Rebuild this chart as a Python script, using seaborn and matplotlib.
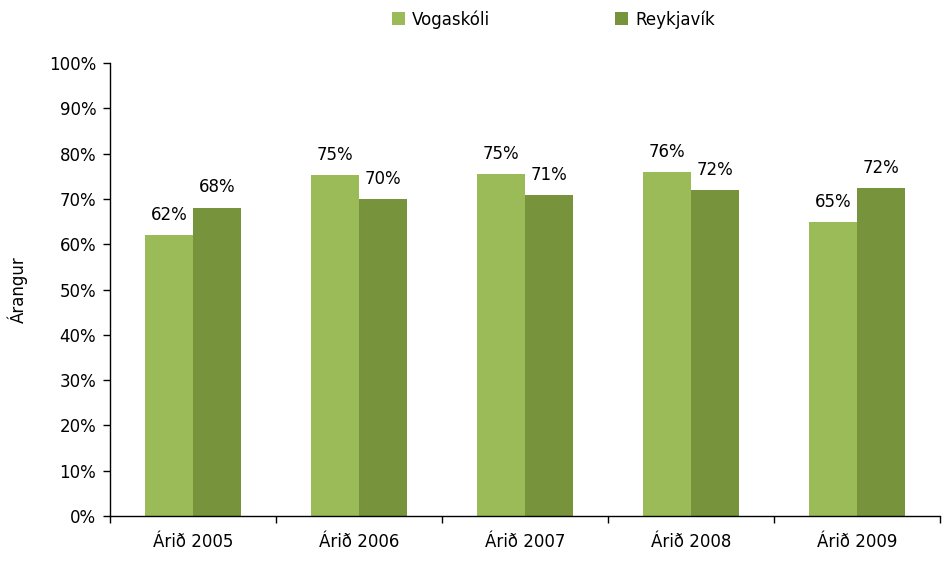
import pandas as pd
import numpy as np
import matplotlib.pyplot as plt
import seaborn as sns
from matplotlib.ticker import PercentFormatter, FixedLocator

# data
years = ['Árið 2005', 'Árið 2006', 'Árið 2007', 'Árið 2008', 'Árið 2009']
vogaskoli = [62.0, 75.2, 75.4, 75.9, 64.9]
reykjavik = [68.1, 69.9, 70.9, 72.0, 72.3]
series = ['Vogaskóli', 'Reykjavík']
colors = ['#9BBB59', '#77933C']

df = pd.DataFrame({
    'ar': years * 2,
    'hopur': [series[0]] * len(years) + [series[1]] * len(years),
    'arangur': vogaskoli + reykjavik,
})

sns.set_style('white')
plt.rcParams['font.family'] = ['DejaVu Sans']
plt.rcParams['text.color'] = 'black'
fs = 12

fig = plt.figure(figsize=(9.42, 5.61), dpi=100)
ax = fig.add_axes([0.1168, 0.0802, 0.8812, 0.8075])

sns.barplot(data=df, x='ar', y='arangur', hue='hopur', palette=colors,
            width=0.58, linewidth=0, saturation=1, ax=ax)

# data labels
for cont in ax.containers:
    ax.bar_label(cont, labels=[f'{v:.0f}%' for v in cont.datavalues],
                 padding=8, fontsize=fs, color='black')

ax.set_xlim(-0.5, len(years) - 0.5)
ax.set_ylim(0, 100)
ax.yaxis.set_major_locator(FixedLocator(np.arange(0, 101, 10)))
ax.yaxis.set_major_formatter(PercentFormatter(decimals=0))

# tick marks between categories on the x axis
ax.xaxis.set_minor_locator(FixedLocator(np.arange(-0.5, len(years), 1)))
ax.tick_params(axis='x', which='major', length=0, pad=12, labelsize=fs, labelcolor='black')
ax.tick_params(axis='x', which='minor', length=5, width=1, color='black', direction='out', bottom=True)
ax.tick_params(axis='y', which='major', length=5, width=1, color='black', direction='out', left=True,
               pad=5, labelsize=fs, labelcolor='black')

for s in ['top', 'right']:
    ax.spines[s].set_visible(False)
for s in ['left', 'bottom']:
    ax.spines[s].set_color('black')
    ax.spines[s].set_linewidth(1)

ax.set_xlabel('')
ax.set_ylabel('Árangur', fontsize=fs, labelpad=15, color='black')

ax.legend(loc='upper center', bbox_to_anchor=(0.534, 1.15), ncol=2, frameon=False,
          fontsize=fs, handlelength=0.8, handleheight=0.8, handletextpad=0.4,
          columnspacing=7.5)

plt.savefig('out.png', dpi=100)
